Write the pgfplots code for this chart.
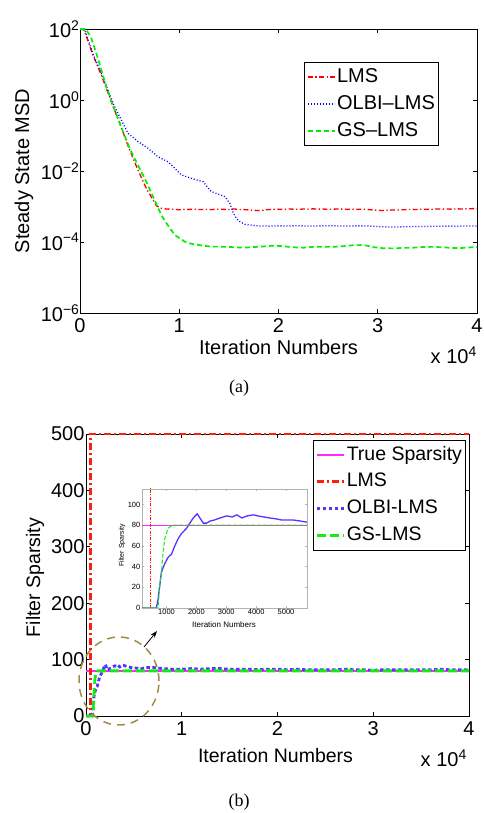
\documentclass[border=0pt]{standalone}
\usepackage{fontspec}
\setmainfont{Liberation Sans}
\newfontfamily\seriffont{Liberation Serif}
\usepackage{pgfplots}
\pgfplotsset{compat=1.18}
\usepackage{pgfplotstable}
\usetikzlibrary{arrows.meta}

\newcommand\tw{\fontsize{20}{24}\selectfont}
\newcommand\tb{\fontsize{19.5}{23}\selectfont}

\definecolor{cr}{RGB}{255,0,0}
\definecolor{cb}{RGB}{0,0,255}
\definecolor{cg}{RGB}{0,240,0}
\definecolor{br}{RGB}{255,30,10}
\definecolor{bb}{RGB}{90,50,255}
\definecolor{bg}{RGB}{20,235,20}
\definecolor{bm}{RGB}{255,40,255}
\definecolor{ol}{RGB}{160,140,70}

% ---------- (a) steady state MSD ----------
\pgfplotstableread{
x y
0 100
400 95.5
1300 18.6
2150 5.01
3150 0.891
4000 0.224
4850 0.0501
5850 0.01047
6700 0.00316
7700 0.00105
8200 0.00089
8700 0.00085
9500 0.00083
10000 0.00081
10500 0.00082
11000 0.00083
11500 0.00084
12000 0.00082
12500 0.00083
13000 0.00081
13500 0.00083
14000 0.00084
14500 0.00083
15000 0.00082
15500 0.00085
16000 0.00083
16500 0.00082
17000 0.00080
17500 0.00078
18000 0.00077
18500 0.00079
19000 0.00082
19500 0.00083
20000 0.00084
20500 0.00083
21000 0.00085
21500 0.00084
22000 0.00083
22500 0.00085
23000 0.00084
23500 0.00086
24000 0.00084
24500 0.00085
25000 0.00083
25500 0.00084
26000 0.00085
26500 0.00084
27000 0.00083
27500 0.00084
28000 0.00083
28500 0.00084
29000 0.00082
29500 0.00080
30000 0.00078
30500 0.00077
31000 0.00078
31500 0.00080
32000 0.00079
32500 0.00081
33000 0.00082
33500 0.00083
34000 0.00082
34500 0.00084
35000 0.00083
35500 0.00084
36000 0.00085
36500 0.00084
37000 0.00085
37500 0.00084
38000 0.00086
38500 0.00085
39000 0.00086
39500 0.00087
40000 0.00087
}\lmsa

\pgfplotstableread{
x y
0 100
500 91.2
1300 19.95
2150 5.62
3000 1.41
3490 0.646
4160 0.275
4840 0.115
5840 0.0676
6850 0.0437
7860 0.0251
8870 0.0182
9540 0.0120
10210 0.00776
11220 0.00617
12400 0.00501
13230 0.00263
14580 0.001905
15100 0.00123
15450 0.000646
15800 0.000447
16120 0.000372
16600 0.000316
17130 0.000302
18140 0.000282
19000 0.000280
20000 0.000285
21000 0.000283
22000 0.000286
23000 0.000282
24000 0.000284
25000 0.000287
26000 0.000284
27000 0.000283
28000 0.000285
29000 0.000283
30000 0.000272
31000 0.000266
32000 0.000265
33000 0.000270
34000 0.000275
35000 0.000274
36000 0.000278
37000 0.000280
38000 0.000279
39000 0.000283
40000 0.000284
}\olbia

\pgfplotstableread{
x y
0 100
600 100
1140 55
1810 14.8
2650 2.34
3490 0.525
4330 0.129
5000 0.0437
5670 0.0182
6680 0.00501
7520 0.00151
8190 0.000575
8700 0.000339
9540 0.0001585
10550 0.0001023
11200 0.000089
11890 0.0000832
12500 0.000078
13230 0.0000741
14000 0.000074
15000 0.000073
15500 0.000071
16500 0.000069
17500 0.000072
18500 0.000075
19500 0.000079
20500 0.000076
21500 0.000071
22500 0.000069
23500 0.000073
24500 0.000074
25500 0.000073
26500 0.000076
27500 0.000081
28500 0.000082
29000 0.000078
29500 0.000072
30500 0.000067
31500 0.000066
32500 0.000068
33500 0.000069
34500 0.000072
35500 0.000073
36500 0.000071
37500 0.000068
38500 0.000068
39500 0.000071
40000 0.000072
}\gsa

% ---------- (b) filter sparsity ----------
\pgfplotstableread{
x y
0 80
40000 80
}\trueb

\pgfplotstableread{
x y
0 0
470 0
470 500
40000 500
}\lmsb

\pgfplotstableread{
x y
0 0
660 0
720 9
775 22
832 35
943 43
1054 49
1166 52
1278 60
1390 67
1502 72
1670 77
1782 82
1894 87
2028 91
2118 87
2230 82
2340 82
2454 84
2600 85
2790 87
3014 89
3200 88
3353 90
3521 87
3700 89
3911 90
4050 89
4247 88
4450 87
4697 86
4850 85
5034 85
5250 85
5480 84
5683 83
6000 85
6500 86
7000 86
7500 85
8000 84
9000 83
10000 83
11000 84
12000 83
13000 84
14000 84
15000 83
16000 83
17000 83
18000 82
19000 83
20000 83
21000 82
22000 83
23000 82
24000 82
25000 82
26000 82
27000 83
28000 82
29000 82
30000 81
31000 82
32000 82
33000 82
34000 82
35000 82
36000 82
37000 83
38000 82
39000 82
40000 82
}\olbib

\pgfplotstableread{
x y
0 0
718 0
775 22
832 35
888 54
943 67
1054 77
1166 79.5
1250 80
40000 80
}\gsb

\begin{document}
\begin{tikzpicture}[x=1pt,y=1pt]
\useasboundingbox (0pt,0pt) rectangle (483pt,813pt);

% ================= (a) =================
\begin{axis}[
  at={(80pt,500pt)}, anchor=south west, scale only axis,
  width=397pt, height=284pt,
  ymode=log, xmin=0, xmax=40000, ymin=1e-6, ymax=1e2,
  xtick={0,10000,20000,30000,40000}, xticklabels={0,1,2,3,4},
  ytick={1e2,1,1e-2,1e-4,1e-6},
  yticklabels={10\textsuperscript{2},10\textsuperscript{0},10\textsuperscript{−2},10\textsuperscript{−4},10\textsuperscript{−6}},
  xminorticks=false, yminorticks=false, scaled x ticks=false,
  tick align=inside, xtick pos=both, ytick pos=both, major tick length=4pt,
  tick label style={font=\tw},
  xticklabel style={yshift=-2pt},
  yticklabel style={xshift=3pt},
  axis line style={line width=0.8pt},
  every tick/.style={black, line width=0.6pt},
  legend image code/.code={\draw[#1] (0pt,0pt) -- (27pt,0pt);},
  legend cell align=left,
  legend style={at={(0.904,0.884)}, anchor=north east, draw=black, line width=0.9pt,
    font=\tw, inner xsep=2pt, inner ysep=1pt,
    nodes={inner xsep=1.5pt, inner ysep=4.3pt, text height=14.5pt, text depth=4pt}},
]
\addplot[cr, line width=1.3pt, dash pattern=on 5pt off 2.5pt on 1.3pt off 2.5pt] table {\lmsa};
\addlegendentry{LMS}
\addplot[cb, line width=1.3pt, dash pattern=on 1pt off 2pt] table {\olbia};
\addlegendentry{OLBI–LMS}
\addplot[cg, line width=1.7pt, dash pattern=on 5pt off 3pt] table {\gsa};
\addlegendentry{GS–LMS}
\end{axis}

\node[rotate=90, font=\tw] at (24pt,642pt) {Steady State MSD};
\node[font=\tw] at (278.5pt,466pt) {Iteration Numbers};
\node[font=\tw, anchor=base east, inner sep=0pt] at (477pt,449pt) {x 10\textsuperscript{4}};
\node[font=\seriffont\fontsize{18}{20}\selectfont] at (239pt,425pt) {(a)};

% ================= (b) =================
\begin{axis}[
  at={(86pt,97pt)}, anchor=south west, scale only axis,
  width=383pt, height=282pt,
  xmin=0, xmax=40000, ymin=0, ymax=500,
  xtick={0,10000,20000,30000,40000}, xticklabels={0,1,2,3,4},
  ytick={0,100,200,300,400,500}, yticklabels={0,100,200,300,400,500},
  minor tick num=0, scaled x ticks=false, scaled y ticks=false,
  tick align=inside, xtick pos=both, ytick pos=both, major tick length=4pt,
  tick label style={font=\tw},
  xticklabel style={yshift=-2pt},
  yticklabel style={xshift=2pt},
  axis line style={line width=0.8pt},
  every tick/.style={black, line width=0.6pt},
  clip=false,
  legend image code/.code={\draw[#1] (0pt,0pt) -- (27pt,0pt);},
  legend cell align=left,
  legend style={at={(0.992,0.979)}, anchor=north east, draw=black, line width=0.9pt,
    font=\tb, inner xsep=2pt, inner ysep=1pt,
    nodes={inner xsep=1.5pt, inner ysep=4.2pt, text height=14.5pt, text depth=4pt}},
]
\addplot[bm, line width=1.5pt] table {\trueb};
\addlegendentry{True Sparsity}
\addplot[br, line width=2.8pt, dash pattern=on 7pt off 3pt on 2pt off 3pt] table {\lmsb};
\addlegendentry{LMS}
\addplot[bb, line width=2.8pt, dash pattern=on 3.5pt off 2.5pt] table {\olbib};
\addlegendentry{OLBI-LMS}
\addplot[bg, line width=2.8pt, dash pattern=on 9pt off 4pt] table {\gsb};
\addlegendentry{GS-LMS}
\end{axis}

\node[rotate=90, font=\tb] at (35pt,235.5pt) {Filter Sparsity};
\node[font=\tb] at (275.5pt,57pt) {Iteration Numbers};
\node[font=\tw, anchor=base east, inner sep=0pt] at (467pt,46pt) {x 10\textsuperscript{4}};
\node[font=\seriffont\fontsize{18}{20}\selectfont] at (239pt,11pt) {(b)};

% ---- zoom circle and arrow ----
\draw[ol, line width=1.5pt, dash pattern=on 8pt off 6pt] (119pt,132pt) ellipse [x radius=40pt, y radius=44pt];
\draw[-{Stealth[length=7pt,width=5pt]}, line width=0.8pt] (144pt,166pt) -- (157pt,182pt);

% ================= inset =================
\begin{axis}[
  at={(142pt,205pt)}, anchor=south west, scale only axis,
  width=165pt, height=119pt,
  xmin=180, xmax=5700, ymin=0, ymax=115,
  xtick={1000,2000,3000,4000,5000}, xticklabels={1000,2000,3000,4000,5000},
  ytick={0,20,40,60,80,100}, yticklabels={0,20,40,60,80,100},
  minor tick num=0, scaled x ticks=false,
  tick align=inside, xtick pos=both, ytick pos=both, major tick length=2pt,
  tick label style={font=\fontsize{7.5}{9}\selectfont, inner sep=1.5pt},
  axis line style={gray!60, line width=0.6pt},
  every tick/.style={gray!60, line width=0.4pt},
  axis background/.style={fill=white},
]
\addplot[bm, line width=0.8pt] table {\trueb};
\addplot[br, line width=0.8pt, dash pattern=on 3pt off 1.5pt on 0.8pt off 1.5pt] table {\lmsb};
\addplot[bb, line width=1.3pt] table {\olbib};
\addplot[bg, line width=1pt, dash pattern=on 4pt off 2pt] table {\gsb};
\end{axis}
\node[rotate=90, font=\fontsize{7}{8}\selectfont] at (122pt,268pt) {Filter Sparsity};
\node[font=\fontsize{8}{9}\selectfont] at (224pt,188.5pt) {Iteration Numbers};

\end{tikzpicture}
\end{document}
